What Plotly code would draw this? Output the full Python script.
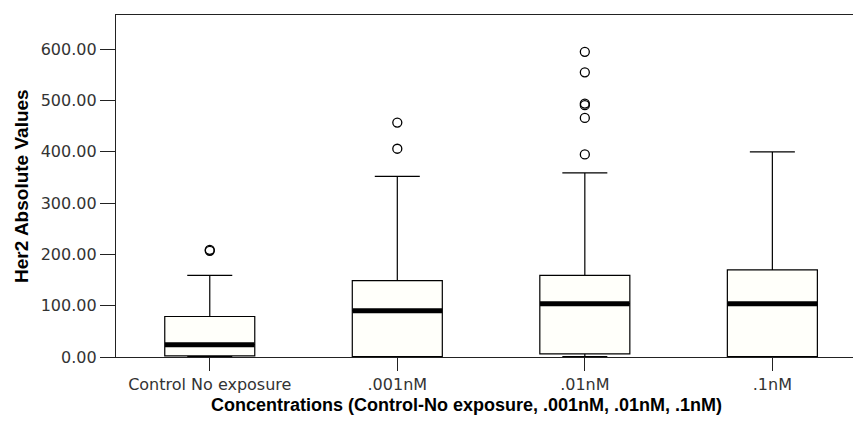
import plotly.graph_objects as go

categories = ["Control No exposure", ".001nM", ".01nM", ".1nM"]
lower_whisker = [0, 0, 1, 0]
q1 = [2, 1, 6, 1]
median = [24, 90, 104, 104]
q3 = [79, 149, 159, 170]
upper_whisker = [159, 352, 359, 400]

outlier_cat = ["Control No exposure", "Control No exposure", ".001nM", ".001nM",
               ".01nM", ".01nM", ".01nM", ".01nM", ".01nM", ".01nM"]
outlier_val = [207, 209, 457, 406, 595, 555, 491, 494, 466, 395]

tick_vals = [0, 100, 200, 300, 400, 500, 600]
tick_text = ["0.00", "100.00", "200.00", "300.00", "400.00", "500.00", "600.00"]

x_title = "Concentrations (Control-No exposure, .001nM, .01nM, .1nM)"
y_title = "Her2 Absolute Values"

fig = go.Figure()
for i, c in enumerate(categories):
    fig.add_trace(go.Box(
        x=[c], q1=[q1[i]], median=[median[i]], q3=[q3[i]],
        lowerfence=[lower_whisker[i]], upperfence=[upper_whisker[i]],
        boxpoints=False, width=0.48, whiskerwidth=0.5,
        line=dict(color="black", width=1.2), fillcolor="#FFFFFA",
        showlegend=False, hoverinfo="skip"))

fig.add_trace(go.Scatter(
    x=categories, y=median, mode="markers",
    marker=dict(symbol="line-ew", size=64, color="black",
                line=dict(color="black", width=5)),
    showlegend=False, hoverinfo="skip"))

fig.add_trace(go.Scatter(
    x=outlier_cat, y=outlier_val, mode="markers",
    marker=dict(symbol="circle-open", size=9, color="black",
                line=dict(color="black", width=1.3)),
    showlegend=False, hoverinfo="skip"))

fig.update_layout(
    width=853, height=422,
    margin=dict(l=116, r=0, t=15, b=65),
    plot_bgcolor="white", paper_bgcolor="white",
    font=dict(family="DejaVu Sans", size=14, color="#333"),
    xaxis=dict(
        type="category", categoryorder="array", categoryarray=categories,
        range=[-0.5, 3.43], showline=True, linecolor="#222", linewidth=1.3,
        mirror=True, ticks="outside", ticklen=13, tickcolor="#222",
        showgrid=False, zeroline=False,
        tickfont=dict(family="DejaVu Sans", size=16, color="#333"),
    ),
    yaxis=dict(
        range=[0, 666.7], tickvals=tick_vals, ticktext=tick_text,
        showline=True, linecolor="#222", linewidth=1.3,
        ticks="outside", ticklen=15, tickcolor="#222",
        showgrid=False, zeroline=False,
        tickfont=dict(family="DejaVu Sans", size=16, color="#333"),
    ),
    annotations=[
        dict(text="<b>" + x_title + "</b>", xref="paper", yref="paper",
             x=0.476, y=-0.140, xanchor="center", yanchor="middle",
             showarrow=False,
             font=dict(family="Liberation Sans", size=18, color="black")),
        dict(text="<b>" + y_title + "</b>", xref="paper", yref="paper",
             x=-0.129, y=0.5, xanchor="center", yanchor="middle",
             textangle=-90, showarrow=False,
             font=dict(family="Liberation Sans", size=19, color="black")),
    ],
)

fig.write_html("out.html")
